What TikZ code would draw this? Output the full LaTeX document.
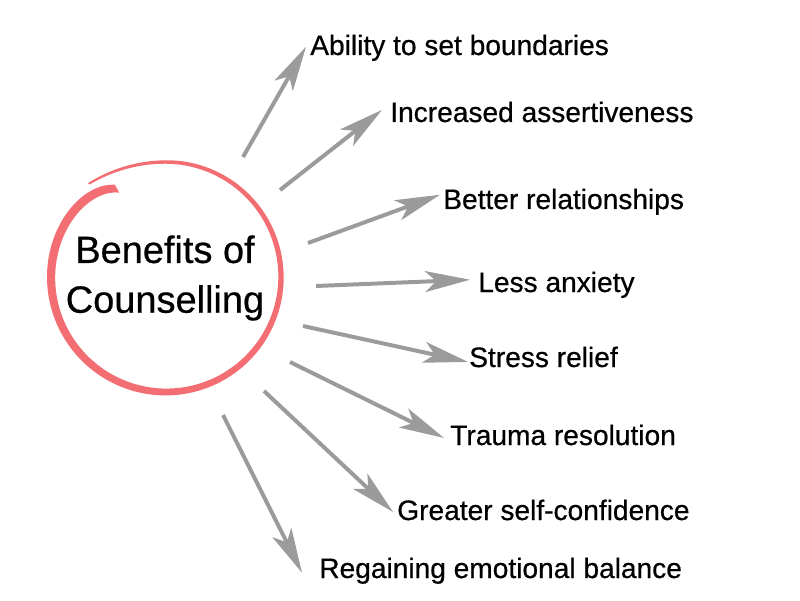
\documentclass[tikz,border=0pt]{standalone}
\usepackage{fontspec}
\setmainfont[FakeBold=0.6,AutoFakeBold=0.6]{Liberation Sans}
\usetikzlibrary{arrows.meta,calc}
\definecolor{brushpink}{RGB}{243,110,114}
\definecolor{arrowgray}{RGB}{155,155,155}

\begin{document}
\begin{tikzpicture}[x=0.025cm,y=0.025cm,
  benefit/.style={anchor=base west,inner sep=0pt,font=\fontsize{20}{24}\selectfont\bfseries},
  link/.style={arrowgray,line width=2.83pt,-{Stealth[length=31.9pt,width=14.9pt,inset=7.8pt]}},
  declare function={rr(\t)=115-14*exp(-(\t-119)/12)+(\t>450)*6*((\t-450)/39.6)^2;
                    ww(\t)=2+7*(1.0001-(\t-119)/370.6)^0.7;}]
\useasboundingbox (0,0) rectangle (800,600);
% brush circle
\coordinate (c) at (166,323);
\begin{scope}[shift={(c)}]
\fill[brushpink] plot[domain=119:489.6,samples=160,smooth] (\x:{rr(\x)+ww(\x)/2})
  -- plot[domain=489.6:119,samples=160,smooth] (\x:{rr(\x)-ww(\x)/2}) -- cycle;
\end{scope}
\node[align=center,inner sep=0pt,font=\fontsize{27}{35.4}\selectfont\bfseries] (ben) at (165,322) {Benefits of\\Counselling};
% labels
\node[benefit] (l1) at (310,545) {Ability to set boundaries};
\node[benefit] (l2) at (390,478) {Increased assertiveness};
\node[benefit] (l3) at (443,391) {Better relationships};
\node[benefit] (l4) at (478,308) {Less anxiety};
\node[benefit] (l5) at (469,233) {Stress relief};
\node[benefit] (l6) at (450,155) {Trauma resolution};
\node[benefit] (l7) at (397,80) {Greater self-confidence};
\node[benefit] (l8) at (319,22) {Regaining emotional balance};
% arrow tails
\coordinate (t1) at (243,443);
\coordinate (t2) at (280,410);
\coordinate (t3) at (308,357);
\coordinate (t4) at (316,314);
\coordinate (t5) at (303,274);
\coordinate (t6) at (290,238);
\coordinate (t7) at (264,209);
\coordinate (t8) at (223,185);
\draw[link] (t1) -- ($(l1.west)+(-4,1)$);
\draw[link] (t2) -- ($(l2.west)+(-8,2)$);
\draw[link] (t3) -- ($(l3.west)+(-3,7)$);
\draw[link] (t4) -- ($(l4.west)+(-8,5)$);
\draw[link] (t5) -- ($(l5.west)+(-1,-5)$);
\draw[link] (t6) -- ($(l6.west)+(-6,-3)$);
\draw[link] (t7) -- ($(l7.west)+(-4,-2)$);
\draw[link] (t8) -- ($(l8.west)+(-17,-2)$);
\end{tikzpicture}
\end{document}
